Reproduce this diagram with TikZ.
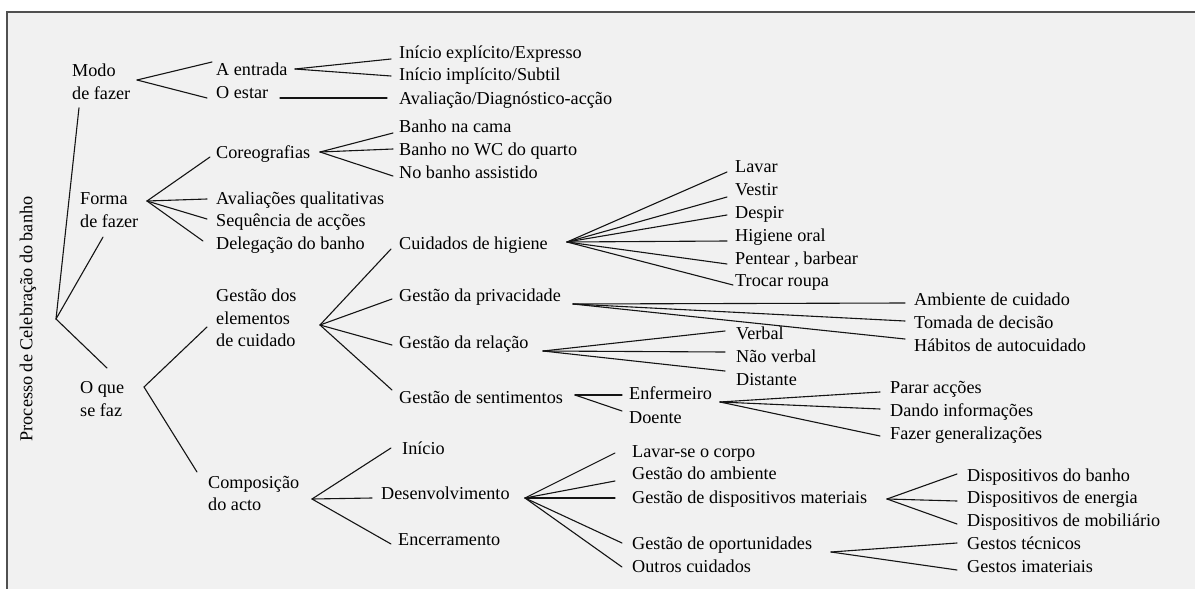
\documentclass[tikz,border=0pt]{standalone}
\usepackage{fontspec}
\setmainfont{Liberation Serif}
\usetikzlibrary{calc}
\definecolor{ink}{RGB}{20,20,20}
\definecolor{paper}{RGB}{241,241,241}
\definecolor{frame}{RGB}{80,80,80}
\begin{document}
\begin{tikzpicture}[x=1pt,y=-1pt,
  lbl/.style={anchor=base west, inner sep=0pt, text=black,
              font=\fontsize{18.2}{22.7}\selectfont},
  multi/.style={anchor=north west, inner sep=0pt, align=left, text=black,
              font=\fontsize{18.2}{22.7}\selectfont},
  link/.style={draw=ink, line width=1.1pt, line cap=round}]

% page, panel and its frame
\useasboundingbox (0,0) rectangle (1195,589);
\fill[white] (0,0) rectangle (1195,589);
\fill[paper] (7,12) rectangle (1195,589);
\draw[frame, line width=2pt] (7,589) -- (7,12) -- (1195,12);

% root
\node[inner sep=0pt, text=black, rotate=90, font=\fontsize{18.2}{22.7}\selectfont]
  (root) at (28,319) {Processo de Celebração do banho};

% first level
\node[multi] (modo)  at (72,63.6)  {Modo\\de fazer};
\node[multi] (forma) at (80,192.6) {Forma\\de fazer};
\node[multi] (oque)  at (80,381.6) {O que\\se faz};

% second level
\node[lbl] (entrada) at (216,75)  {A entrada};
\node[lbl] (estar)   at (216,98)  {O estar};
\node[lbl] (coreo)   at (216,158) {Coreografias};
\node[lbl] (aval)    at (216,204) {Avaliações qualitativas};
\node[lbl] (seq)     at (216,226) {Sequência de acções};
\node[lbl] (deleg)   at (216,249) {Delegação do banho};
\node[multi] (gestdos) at (216,288.6) {Gestão dos\\elementos\\de cuidado};
\node[multi] (compos)  at (208,475.6) {Composição\\do acto};

% third level
\node[lbl] (ie)      at (399,58)  {Início explícito/Expresso};
\node[lbl] (ii)      at (399,80)  {Início implícito/Subtil};
\node[lbl] (ad)      at (399,104) {Avaliação/Diagnóstico-acção};
\node[lbl] (bcama)   at (399,132) {Banho na cama};
\node[lbl] (bwc)     at (399,155) {Banho no WC do quarto};
\node[lbl] (bassist) at (399,178) {No banho assistido};
\node[lbl] (cuid)    at (399,249) {Cuidados de higiene};
\node[lbl] (priv)    at (399,301) {Gestão da privacidade};
\node[lbl] (rel)     at (399,348) {Gestão da relação};
\node[lbl] (sent)    at (399,403) {Gestão de sentimentos};
\node[lbl] (inicio)  at (402,454) {Início};
\node[lbl] (desenv)  at (381,499) {Desenvolvimento};
\node[lbl] (encerr)  at (398,545) {Encerramento};

% fourth level
\node[lbl] (lavar)    at (735,172) {Lavar};
\node[lbl] (vestir)   at (735,195) {Vestir};
\node[lbl] (despir)   at (735,218) {Despir};
\node[lbl] (higoral)  at (735,241) {Higiene oral};
\node[lbl] (pentear)  at (735,264) {Pentear , barbear};
\node[lbl] (trocar)   at (735,286) {Trocar roupa};
\node[lbl] (ambcuid)  at (914,305) {Ambiente de cuidado};
\node[lbl] (tomada)   at (914,328) {Tomada de decisão};
\node[lbl] (habitos)  at (914,351) {Hábitos de autocuidado};
\node[lbl] (verbal)   at (736,339) {Verbal};
\node[lbl] (naoverb)  at (736,362) {Não verbal};
\node[lbl] (distante) at (736,385) {Distante};
\node[lbl] (enferm)   at (629,399) {Enfermeiro};
\node[lbl] (doente)   at (629,423) {Doente};
\node[lbl] (lavarse)  at (632,457) {Lavar-se o corpo};
\node[lbl] (gamb)     at (632,479) {Gestão do ambiente};
\node[lbl] (gdisp)    at (632,503) {Gestão de dispositivos materiais};
\node[lbl] (goport)   at (632,549) {Gestão de oportunidades};
\node[lbl] (outros)   at (632,572) {Outros cuidados};

% fifth level
\node[lbl] (parar)    at (890,393) {Parar acções};
\node[lbl] (dando)    at (890,416) {Dando informações};
\node[lbl] (fazer)    at (890,439) {Fazer generalizações};
\node[lbl] (dbanho)   at (967,481) {Dispositivos do banho};
\node[lbl] (denerg)   at (967,503) {Dispositivos de energia};
\node[lbl] (dmob)     at (967,526) {Dispositivos de mobiliário};
\node[lbl] (gtec)     at (967,549) {Gestos técnicos};
\node[lbl] (gimat)    at (967,572) {Gestos imateriais};

% branching points
\coordinate (j-root)   at (56,319);
\coordinate (j-modo)   at (137,80);
\coordinate (j-entr)   at (295,69);
\coordinate (j-estar)  at (280,98);
\coordinate (j-forma)  at (147,201);
\coordinate (j-coreo)  at (320,152);
\coordinate (j-oque)   at (144,387);
\coordinate (j-gdos)   at (320,325);
\coordinate (j-comp)   at (312,499);
\coordinate (j-cuid)   at (567,242);
\coordinate (j-priv)   at (573,304);
\coordinate (j-rel)    at (543,351);
\coordinate (j-sent)   at (575,395);
\coordinate (j-enf)    at (720,402);
\coordinate (j-desenv) at (525,498);
\coordinate (j-gdisp)  at (887,499);
\coordinate (j-gop)    at (831,552);

% root branches
\draw[link] (j-root) -- ($(modo.south west)+(7,8.3)$);
\draw[link] (j-root) -- ($(forma.south west)+(23,9.3)$);
\draw[link] (j-root) -- ($(oque.north west)+(27,-13.6)$);

% modo de fazer
\draw[link] (j-modo) -- ($(entrada.base west)+(-4,-13)$);
\draw[link] (j-modo) -- ($(estar.base west)+(-9,0)$);
\draw[link] (j-entr) -- ($(ie.base west)+(-8,1)$);
\draw[link] (j-entr) -- ($(ii.base west)+(-8,-4)$);
\draw[link] (j-estar) -- ($(ad.base west)+(-12,-6)$);

% forma de fazer
\draw[link] (j-forma) -- ($(coreo.base west)+(-6,-1)$);
\draw[link] (j-forma) -- ($(aval.base west)+(-9,-5)$);
\draw[link] (j-forma) -- ($(seq.base west)+(-9,-7)$);
\draw[link] (j-forma) -- ($(deleg.base west)+(-13,-8)$);
\draw[link] (j-coreo) -- ($(bcama.base west)+(-6,1)$);
\draw[link] (j-coreo) -- ($(bwc.base west)+(-6,-6)$);
\draw[link] (j-coreo) -- ($(bassist.base west)+(-6,-2)$);

% o que se faz
\draw[link] (j-oque) -- ($(gestdos.north west)+(-9,38.4)$);
\draw[link] (j-oque) -- ($(compos.north west)+(-11,-3.6)$);

\draw[link] (j-gdos) -- ($(cuid.base west)+(-8,0)$);
\draw[link] (j-gdos) -- ($(priv.base west)+(-7,-2)$);
\draw[link] (j-gdos) -- ($(rel.base west)+(-7,-3)$);
\draw[link] (j-gdos) -- ($(sent.base west)+(-7,-13)$);

\draw[link] (j-cuid) -- ($(lavar.base west)+(-8,0)$);
\draw[link] (j-cuid) -- ($(vestir.base west)+(-8,2)$);
\draw[link] (j-cuid) -- ($(despir.base west)+(-8,-3)$);
\draw[link] (j-cuid) -- ($(higoral.base west)+(-8,0)$);
\draw[link] (j-cuid) -- ($(pentear.base west)+(-8,0)$);
\draw[link] (j-cuid) -- ($(trocar.base west)+(-2,-1)$);

\draw[link] (j-priv) -- ($(ambcuid.base west)+(-9,-2)$);
\draw[link] (j-priv) -- ($(tomada.base west)+(-9,-7)$);
\draw[link] (j-priv) -- ($(habitos.base west)+(-9,-12)$);

\draw[link] (j-rel) -- ($(verbal.base west)+(-11,-8)$);
\draw[link] (j-rel) -- ($(naoverb.base west)+(-11,-10)$);
\draw[link] (j-rel) -- ($(distante.base west)+(-11,-14)$);

\draw[link] (j-sent) -- ($(enferm.base west)+(-7,-4)$);
\draw[link] (j-sent) -- ($(doente.base west)+(-7,-12)$);
\draw[link] (j-enf) -- ($(parar.base west)+(-10,-1)$);
\draw[link] (j-enf) -- ($(dando.base west)+(-10,-7)$);
\draw[link] (j-enf) -- ($(fazer.base west)+(-10,-3)$);

\draw[link] (j-comp) -- ($(inicio.base west)+(-11,-6)$);
\draw[link] (j-comp) -- ($(desenv.base west)+(-9,-1)$);
\draw[link] (j-comp) -- ($(encerr.base west)+(-7,-1)$);

\draw[link] (j-desenv) -- ($(lavarse.base west)+(-17,-4)$);
\draw[link] (j-desenv) -- ($(gamb.base west)+(-17,2)$);
\draw[link] (j-desenv) -- ($(gdisp.base west)+(-17,-5)$);
\draw[link] (j-desenv) -- ($(goport.base west)+(-10,-6)$);
\draw[link] (j-desenv) -- ($(outros.base west)+(-10,-5)$);

\draw[link] (j-gdisp) -- ($(dbanho.base west)+(-10,-7)$);
\draw[link] (j-gdisp) -- ($(denerg.base west)+(-10,-2)$);
\draw[link] (j-gdisp) -- ($(dmob.base west)+(-10,-2)$);
\draw[link] (j-gop) -- ($(gtec.base west)+(-10,-6)$);
\draw[link] (j-gop) -- ($(gimat.base west)+(-10,-2)$);
\end{tikzpicture}
\end{document}
